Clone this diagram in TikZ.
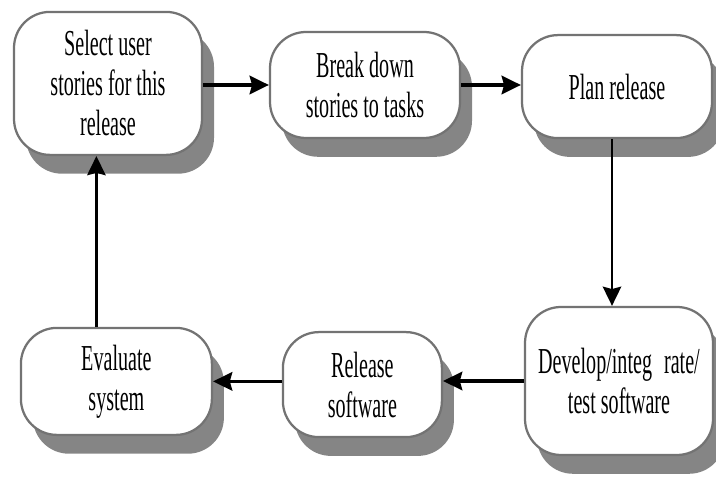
\documentclass[tikz,border=0pt]{standalone}
\usepackage{fontspec}
\setmainfont{Liberation Serif}[FakeStretch=0.55]
\usepackage{tikz}
\usetikzlibrary{arrows.meta,positioning,calc,shadows}

\begin{document}
\begin{tikzpicture}[
    stage/.style={draw=black!55, line width=1.6pt, rounded corners=0.9cm, fill=white, align=center, inner sep=0pt,
        font=\fontsize{26}{28.5}\selectfont,
        drop shadow={shadow xshift=0.3cm, shadow yshift=-0.47cm, fill=black!48, opacity=1}},
    flow/.style={line width=2.4pt, -{Stealth[length=0.48cm, width=0.46cm, inset=0.06cm]}},
    >=Stealth
]
    \useasboundingbox (0,0) rectangle (17.9,11.925);

    % Top row
    \node[stage, minimum width=4.7cm, minimum height=3.575cm] (sel) at (2.70,9.84) {Select user\\ stories for this\\ release};
    \node[stage, minimum width=4.75cm, minimum height=2.65cm] (brk) at (9.125,9.8) {Break down\\ stories to tasks};
    \node[stage, minimum width=4.75cm, minimum height=2.575cm] (plan) at (15.425,9.76) {Plan release};

    % Bottom row
    \node[stage, minimum width=4.7cm, minimum height=3.7cm] (dev) at (15.475,2.4) {Develop/integ\hspace{0.3cm}rate/\\ test software};
    \node[stage, minimum width=3.975cm, minimum height=2.625cm] (rel) at (9.06,2.31) {Release\\ software};
    \node[stage, minimum width=4.775cm, minimum height=2.675cm] (eval) at (2.91,2.39) {Evaluate\\ system};

    % Edges
    \draw[flow] (sel.east |- brk) -- (brk.west);
    \draw[flow] (brk.east) -- (brk.east -| plan.west);
    \draw[flow, line width=1.8pt] ([xshift=-0.125cm]plan.south) -- ([xshift=-0.125cm]plan.south |- dev.north);
    \draw[flow] (dev.west) -- (dev.west -| rel.east);
    \draw[flow] (rel.west |- eval) -- (eval.east);
    \draw[flow, line width=1.8pt] ([xshift=-0.5cm]eval.north) -- ([xshift=-0.5cm]eval.north |- sel.south);

\end{tikzpicture}
\end{document}
